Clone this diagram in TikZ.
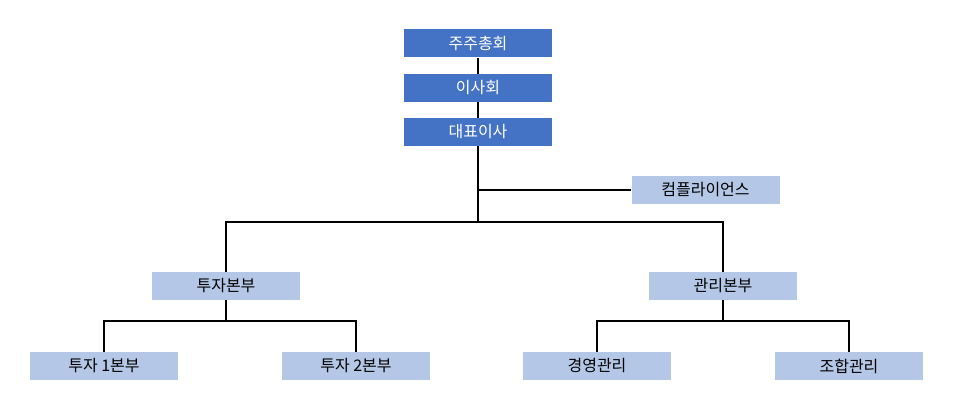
\documentclass[tikz,border=0pt]{standalone}
\usepackage{fontspec}
\setmainfont{Noto Sans CJK KR}
\definecolor{topblue}{HTML}{4472C4}
\definecolor{subblue}{HTML}{B4C7E7}
\tikzset{
  topbox/.style={fill=topblue,text=white,minimum width=148pt,minimum height=28pt,inner sep=0pt,font=\fontsize{16}{19}\selectfont},
  subbox/.style={fill=subblue,text=black,minimum width=148pt,minimum height=28pt,inner sep=0pt,font=\fontsize{16}{19}\selectfont},
  link/.style={line width=2pt}
}
\begin{document}
\begin{tikzpicture}[x=1pt,y=-1pt]
    \useasboundingbox (0,0) rectangle (970,406);
    \node[topbox] (gm) at (478,43.5) {주주총회};
    \node[topbox] (bd) at (478,88) {이사회};
    \node[topbox] (ceo) at (478,132) {대표이사};
    \node[subbox] (cmp) at (705.5,190) {컴플라이언스};
    \node[subbox] (inv) at (226,286) {투자본부};
    \node[subbox] (mgt) at (723,286) {관리본부};
    \node[subbox] (inv1) at (104,366) {투자 1본부};
    \node[subbox] (inv2) at (356,366) {투자 2본부};
    \node[subbox] (biz) at (597,366) {경영관리};
    \node[subbox] (fund) at (849,366) {조합관리};
    % joints
    \coordinate (cj) at (478,190);
    \coordinate (split) at (478,222);
    \coordinate (ij) at (226,321);
    \coordinate (mj) at (723,321);
    \draw[link] (gm) -- (bd);
    \draw[link] (bd) -- (ceo);
    \draw[link] (ceo) -- (split);
    \draw[link] (cj) -- (cmp);
    \draw[link] (inv.north) |- (split) -| (mgt.north);
    \draw[link] (inv) -- (ij);
    \draw[link] (inv1.north) |- (ij) -| (inv2.north);
    \draw[link] (mgt) -- (mj);
    \draw[link] (biz.north) |- (mj) -| (fund.north);
\end{tikzpicture}
\end{document}
